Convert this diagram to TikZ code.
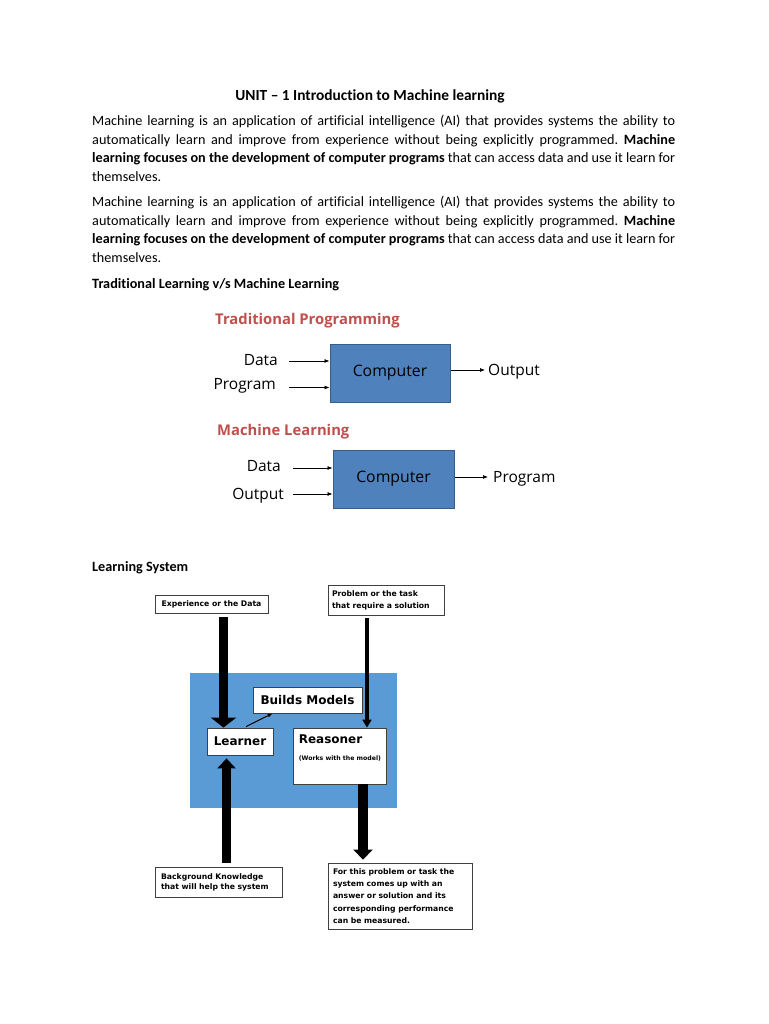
\documentclass[tikz,border=0pt]{standalone}
\usepackage{fontspec}
\setmainfont{Carlito}[Ligatures={TeX,NoCommon}]
\newfontfamily\figfont{Open Sans}
\newfontfamily\boxfont{DejaVu Sans}
\usetikzlibrary{arrows.meta}
\definecolor{compblue}{HTML}{4F81BD}
\definecolor{compedge}{HTML}{385D8A}
\definecolor{sysblue}{HTML}{5B9BD5}
\definecolor{headred}{HTML}{C0504D}
\frenchspacing
\newcommand{\bodyline}[3]{\node[body] (#1) at (92,#2) {\makebox[583pt][s]{#3}};}

\begin{document}
\begin{tikzpicture}[x=1pt,y=-1pt,
	body/.style={anchor=base west, inner sep=0pt, font=\fontsize{14.2}{16}\selectfont},
	figtext/.style={anchor=base west, inner sep=0pt, font=\figfont\fontsize{15.5}{17}\selectfont},
	fighead/.style={anchor=base west, inner sep=0pt, text=headred, font=\figfont\bfseries\fontsize{14.8}{16}\selectfont},
	compbox/.style={draw=compedge, line width=1pt, fill=compblue, minimum width=120pt, minimum height=58pt, font=\figfont\fontsize{15.8}{17}\selectfont},
	thinarrow/.style={line width=0.7pt, -{Latex[length=5pt,width=4pt]}},
	lsbox/.style={draw=black!75, line width=0.8pt, fill=white, inner sep=0pt},
	lstext/.style={font=\boxfont\bfseries\fontsize{7.7}{12}\selectfont},
	lsbig/.style={font=\boxfont\bfseries\fontsize{12}{13}\selectfont},
	bigarrow/.style={line width=9.5pt, -{Triangle[length=10pt,width=#1]}},
	bigarrow/.default=19pt,
	midarrow/.style={line width=4.5pt, -{Triangle[length=8pt,width=9pt]}}]
		%%%%% START %%%%%
		\fill[white] (0,0) rectangle (768,1024);
		\useasboundingbox (0,0) rectangle (768,1024);
		
		\node[body, anchor=base, font=\bfseries\fontsize{15.4}{17}\selectfont] (title) at (370,101) {UNIT – 1 Introduction to Machine learning};
		
		\bodyline{pa1}{126}{Machine learning is an application of artificial intelligence (AI) that provides systems the ability to}
		\bodyline{pa2}{144.4}{automatically learn and improve from experience without being explicitly programmed. \textbf{Machine}}
		\bodyline{pa3}{162.8}{\textbf{learning focuses on the development of computer programs} that can access data and use it learn for}
		\node[body] (pa4) at (92,181.2) {themselves.};
		
		\bodyline{pb1}{207}{Machine learning is an application of artificial intelligence (AI) that provides systems the ability to}
		\bodyline{pb2}{225.4}{automatically learn and improve from experience without being explicitly programmed. \textbf{Machine}}
		\bodyline{pb3}{243.8}{\textbf{learning focuses on the development of computer programs} that can access data and use it learn for}
		\node[body] (pb4) at (92,262.2) {themselves.};
		
		\node[body, font=\bfseries\fontsize{14.2}{16}\selectfont] (tradhead) at (92,288) {Traditional Learning v/s Machine Learning};
		
		%%%%% traditional programming %%%%%
		\node[fighead] (tphead) at (215,324) {Traditional Programming};
		\node[figtext, anchor=base east] (tpdata) at (278,365) {Data};
		\node[figtext, anchor=base east] (tpprog) at (276,389) {Program};
		\node[compbox] (tpcomp) at (390,373) {Computer};
		\node[figtext] (tpout) at (488,375) {Output};
		\draw[thinarrow] ([shift={(11pt,4pt)}]tpdata.base east) coordinate (d1) -- (d1 -| tpcomp.west);
		\draw[thinarrow] ([shift={(13pt,1.5pt)}]tpprog.base east) coordinate (d2) -- (d2 -| tpcomp.west);
		\draw[thinarrow] ([yshift=3pt]tpcomp.east) coordinate (d3) -- ([xshift=-3pt]d3 -| tpout.west);
		
		%%%%% machine learning %%%%%
		\node[fighead] (mlhead) at (217,435) {Machine Learning};
		\node[figtext, anchor=base east] (mldata) at (281,471) {Data};
		\node[figtext, anchor=base east] (mlout) at (284,499) {Output};
		\node[compbox, minimum width=121pt] (mlcomp) at (393.5,479) {Computer};
		\node[figtext] (mlprog) at (493,482) {Program};
		\draw[thinarrow] ([shift={(12pt,3pt)}]mldata.base east) coordinate (m1) -- (m1 -| mlcomp.west);
		\draw[thinarrow] ([shift={(9pt,5pt)}]mlout.base east) coordinate (m2) -- (m2 -| mlcomp.west);
		\draw[thinarrow] ([yshift=2pt]mlcomp.east) coordinate (m3) -- ([xshift=-5pt]m3 -| mlprog.west);
		
		\node[body, font=\bfseries\fontsize{14.2}{16}\selectfont] (lshead) at (92,571) {Learning System};
		
		%%%%% learning system %%%%%
		\node[fill=sysblue, minimum width=207pt, minimum height=135pt, inner sep=0pt] (system) at (293.5,740.5) {};
		
		\node[lsbox, lstext, minimum width=113pt, minimum height=18pt] (exper) at (211.5,604) {Experience or the Data};
		\node[lsbox, lstext, minimum width=116pt, minimum height=30pt, text width=108pt, align=left] (problem) at (386,600) {Problem or the task\\that require a solution};
		\node[lsbox, lsbig, minimum width=109pt, minimum height=26pt] (builds) at (307.5,700) {Builds Models};
		\node[lsbox, lsbig, minimum width=66pt, minimum height=27pt] (learner) at (240,741.5) {Learner};
		\node[lsbox, minimum width=93pt, minimum height=56pt] (reasoner) at (339.5,756) {};
		\node[anchor=west, inner sep=0pt, lsbig] (reatitle) at ([shift={(6pt,-12pt)}]reasoner.north west) {Reasoner};
		\node[anchor=west, inner sep=0pt, font=\boxfont\bfseries\fontsize{6.2}{7}\selectfont] (reanote) at ([shift={(6pt,-31pt)}]reasoner.north west) {(Works with the model)};
		\node[lsbox, lstext, font=\boxfont\bfseries\fontsize{7.7}{10}\selectfont, minimum width=127pt, minimum height=30pt, text width=115pt, align=left] (backgr) at (218.5,882) {Background Knowledge\\that will help the system};
		\node[lsbox, lstext, font=\boxfont\bfseries\fontsize{7.7}{12.4}\selectfont, minimum width=144pt, minimum height=66pt, text width=134pt, align=left] (result) at (400,896) {For this problem or task the\\system comes up with an\\answer or solution and its\\corresponding performance\\can be measured.};
		
		\draw[bigarrow=25pt] ([xshift=12pt,yshift=-4pt]exper.south) coordinate (e1) -- (e1 |- learner.north);
		\draw[midarrow] ([xshift=-19pt,yshift=-3pt]problem.south) coordinate (q1) -- (q1 |- reasoner.north);
		\draw[bigarrow=18pt] ([xshift=8pt,yshift=4pt]backgr.north) coordinate (b1) -- ([yshift=-3pt]b1 |- learner.south);
		\draw[bigarrow=19pt] ([xshift=23.5pt]reasoner.south) coordinate (r1) -- ([yshift=3pt]r1 |- result.north);
		\draw[line width=1pt, -{Latex[length=5pt,width=4pt]}] ([xshift=6pt,yshift=1pt]learner.north) -- ([xshift=20pt]builds.south west);
		%%%%% END %%%%%
	\end{tikzpicture}
\end{document}
